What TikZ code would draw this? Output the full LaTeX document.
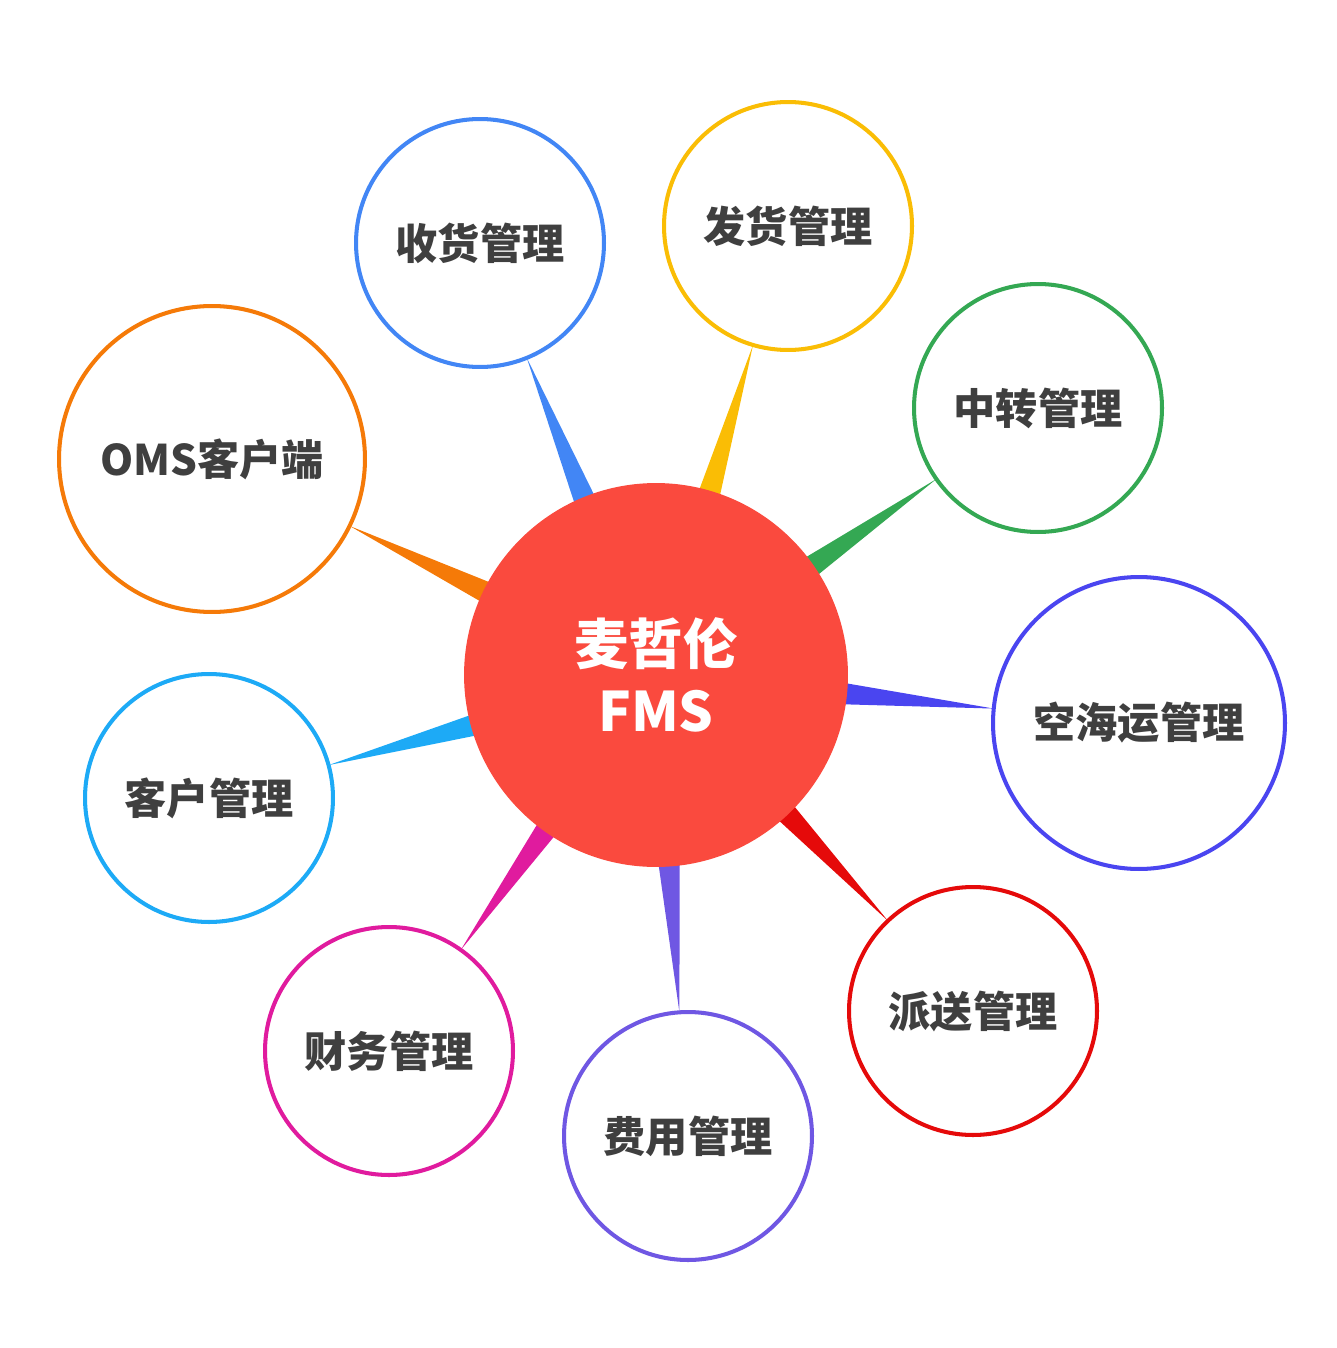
\documentclass[tikz,border=0pt]{standalone}
\usepackage{fontspec}
\setmainfont{Noto Sans CJK SC}
\usetikzlibrary{calc,backgrounds}
\definecolor{fmsRed}   {HTML}{FA4A3E}
\definecolor{fmsText}  {HTML}{3F3F3F}
\definecolor{fmsBlue}  {HTML}{4286F5}
\definecolor{fmsYellow}{HTML}{FABD05}
\definecolor{fmsGreen} {HTML}{34A853}
\definecolor{fmsIndigo}{HTML}{4A45F0}
\definecolor{fmsCrimson}{HTML}{E50A0A}
\definecolor{fmsViolet}{HTML}{6F57E3}
\definecolor{fmsPink}  {HTML}{E01B9E}
\definecolor{fmsSky}   {HTML}{1DAAF6}
\definecolor{fmsOrange}{HTML}{F57A08}
\tikzset{
  hub/.style={circle,fill=fmsRed,minimum size=7.68cm,text=white,align=center,
              font=\fontsize{31}{38}\selectfont\bfseries},
  topic/.style={circle,draw=#1,fill=white,line width=2.3pt,minimum size=4.96cm,
                text=fmsText,font=\fontsize{24}{28}\selectfont\bfseries},
  big/.style={minimum size=#1}
}

\begin{document}
\begin{tikzpicture}[x=0.02cm,y=-0.02cm]
  \useasboundingbox (0,0) rectangle (1336,1348);
  % centre
  \node[hub] (fms) at (656,675) {麦哲伦\\FMS};
  % modules
  \node[topic=fmsBlue]    (recv)    at (480,243)  {收货管理};
  \node[topic=fmsYellow]  (ship)    at (788,226)  {发货管理};
  \node[topic=fmsGreen]   (transit) at (1038,408) {中转管理};
  \node[topic=fmsIndigo,big=5.84cm] (airsea) at (1139,723) {空海运管理};
  \node[topic=fmsCrimson] (deliver) at (973,1011) {派送管理};
  \node[topic=fmsViolet]  (fee)     at (688,1136) {费用管理};
  \node[topic=fmsPink]    (finance) at (389,1051) {财务管理};
  \node[topic=fmsSky]     (client)  at (209,798)  {客户管理};
  \node[topic=fmsOrange,big=6.12cm] (oms) at (212,459) {OMS客户端};
  % tapered spokes, tip on the module's rim
  \begin{scope}[on background layer]
    \foreach \mod/\col/\rad in {recv/fmsBlue/2.48cm,ship/fmsYellow/2.48cm,transit/fmsGreen/2.48cm,airsea/fmsIndigo/2.92cm,deliver/fmsCrimson/2.48cm,fee/fmsViolet/2.48cm,finance/fmsPink/2.48cm,client/fmsSky/2.48cm,oms/fmsOrange/3.06cm}
      \fill[\col] ($(fms)!0.48cm!90:(\mod)$) -- ($(\mod)!\rad!(fms)$)
                  -- ($(fms)!0.48cm!-90:(\mod)$) -- cycle;
  \end{scope}
\end{tikzpicture}
\end{document}
